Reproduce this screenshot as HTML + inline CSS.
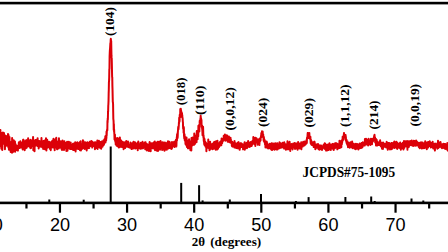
<!DOCTYPE html>
<html><head><meta charset="utf-8"><style>
html,body{margin:0;padding:0;background:#fff;}
body{width:448px;height:252px;overflow:hidden;}
svg{display:block;}
.ser{font-family:"Liberation Serif",serif;font-weight:bold;fill:#000;}
.san{font-family:"Liberation Sans",sans-serif;fill:#000;}
</style></head><body>
<svg width="448" height="252" viewBox="0 0 448 252">
<rect x="0" y="0" width="448" height="252" fill="#fff"/>
<rect x="0" y="1.8" width="448" height="2.6" fill="#000"/>
<polyline fill="none" stroke="#dc0008" stroke-width="2.0" stroke-linejoin="round" points="-2.00,143.03 -1.87,136.09 -1.73,137.68 -1.60,138.29 -1.47,138.79 -1.33,137.48 -1.20,143.01 -1.07,138.25 -0.93,139.11 -0.80,138.04 -0.67,133.54 -0.53,134.36 -0.40,133.32 -0.27,139.20 -0.13,134.91 -0.00,133.27 0.13,139.42 0.27,140.78 0.40,129.94 0.53,146.32 0.67,138.46 0.80,137.81 0.93,143.39 1.07,138.65 1.20,135.43 1.33,148.81 1.47,133.18 1.60,137.86 1.73,142.39 1.87,133.20 2.00,137.85 2.13,140.20 2.27,149.90 2.40,134.04 2.53,138.12 2.67,141.53 2.80,138.75 2.93,132.54 3.07,140.34 3.20,138.89 3.33,140.53 3.47,143.87 3.60,143.30 3.73,140.36 3.87,139.90 4.00,133.03 4.13,137.86 4.27,139.70 4.40,136.84 4.53,139.36 4.67,135.12 4.80,146.35 4.93,149.32 5.07,137.59 5.20,141.37 5.33,138.58 5.47,145.52 5.60,141.87 5.73,140.38 5.87,139.16 6.00,140.84 6.13,136.01 6.27,143.49 6.40,137.57 6.53,143.09 6.67,141.47 6.80,145.69 6.93,141.10 7.07,145.60 7.20,137.60 7.33,144.13 7.47,140.81 7.60,142.69 7.73,142.32 7.87,146.00 8.00,134.09 8.13,143.77 8.27,136.57 8.40,147.61 8.53,134.99 8.67,139.03 8.80,136.53 8.93,149.81 9.07,138.39 9.20,144.06 9.33,141.67 9.47,136.90 9.60,142.74 9.73,146.75 9.87,143.63 10.00,148.08 10.13,143.21 10.27,144.71 10.40,143.34 10.53,146.16 10.67,151.98 10.80,146.41 10.93,145.89 11.07,143.06 11.20,142.69 11.33,150.67 11.47,141.67 11.60,142.50 11.73,145.45 11.87,144.42 12.00,152.64 12.13,138.10 12.27,147.39 12.40,148.65 12.53,142.69 12.67,144.38 12.80,147.98 12.93,151.91 13.07,143.83 13.20,141.83 13.33,149.83 13.47,151.51 13.60,145.87 13.73,140.32 13.87,151.22 14.00,146.41 14.13,150.23 14.27,146.93 14.40,146.04 14.53,145.88 14.67,151.13 14.80,151.01 14.93,141.60 15.07,144.83 15.20,151.81 15.33,146.39 15.47,143.99 15.60,147.39 15.73,147.16 15.87,147.22 16.00,146.37 16.13,146.71 16.27,146.31 16.40,148.07 16.53,145.38 16.67,146.52 16.80,146.79 16.93,150.02 17.07,147.85 17.20,146.69 17.33,148.09 17.47,147.73 17.60,149.19 17.73,147.83 17.87,150.62 18.00,149.56 18.13,146.43 18.27,145.55 18.40,148.34 18.53,147.47 18.67,146.08 18.80,143.01 18.93,142.19 19.07,146.85 19.20,147.70 19.33,147.71 19.47,143.17 19.60,148.07 19.73,144.67 19.87,146.56 20.00,146.56 20.13,143.95 20.27,144.38 20.40,141.15 20.53,143.61 20.67,141.64 20.80,146.53 20.93,145.68 21.07,147.57 21.20,146.31 21.33,144.05 21.47,146.26 21.60,144.55 21.73,146.84 21.87,146.15 22.00,143.08 22.13,145.38 22.27,145.49 22.40,144.60 22.53,147.47 22.67,149.44 22.80,144.38 22.93,144.40 23.07,139.70 23.20,144.90 23.33,144.11 23.47,139.76 23.60,145.89 23.73,146.65 23.87,143.25 24.00,144.15 24.13,142.59 24.27,147.05 24.40,141.08 24.53,144.21 24.67,150.18 24.80,145.13 24.93,146.23 25.07,144.56 25.20,141.75 25.33,144.83 25.47,146.01 25.60,142.06 25.73,145.81 25.87,148.31 26.00,147.82 26.13,140.34 26.27,142.02 26.40,140.17 26.53,147.81 26.67,146.48 26.80,146.74 26.93,142.13 27.07,141.26 27.20,144.86 27.33,144.90 27.47,142.07 27.60,144.95 27.73,146.39 27.87,145.14 28.00,141.40 28.13,138.23 28.27,143.62 28.40,144.83 28.53,143.56 28.67,143.03 28.80,142.23 28.93,146.33 29.07,144.04 29.20,144.53 29.33,141.28 29.47,142.28 29.60,144.55 29.73,141.08 29.87,140.30 30.00,143.01 30.13,147.48 30.27,144.48 30.40,148.18 30.53,143.46 30.67,142.91 30.80,139.68 30.93,142.06 31.07,147.96 31.20,144.66 31.33,145.83 31.47,145.72 31.60,143.57 31.73,142.97 31.87,143.89 32.00,145.50 32.13,144.83 32.27,144.90 32.40,143.87 32.53,141.10 32.67,142.58 32.80,140.53 32.93,146.27 33.07,137.07 33.20,142.67 33.33,150.30 33.47,142.36 33.60,140.10 33.73,143.34 33.87,147.08 34.00,142.98 34.13,145.18 34.27,143.76 34.40,142.47 34.53,151.23 34.67,143.74 34.80,142.10 34.93,142.26 35.07,144.62 35.20,144.71 35.33,145.68 35.47,144.04 35.60,139.97 35.73,145.09 35.87,142.94 36.00,143.03 36.13,140.03 36.27,142.36 36.40,142.01 36.53,143.75 36.67,140.30 36.80,144.00 36.93,144.20 37.07,141.24 37.20,142.46 37.33,141.94 37.47,146.11 37.60,138.14 37.73,143.24 37.87,140.26 38.00,143.10 38.13,145.99 38.27,142.65 38.40,144.40 38.53,142.17 38.67,148.50 38.80,146.17 38.93,146.67 39.07,141.08 39.20,141.60 39.33,146.58 39.47,143.67 39.60,143.53 39.73,144.89 39.87,141.25 40.00,145.90 40.13,144.18 40.27,145.24 40.40,142.60 40.53,145.33 40.67,142.53 40.80,146.35 40.93,146.76 41.07,146.27 41.20,145.36 41.33,145.63 41.47,137.91 41.60,146.11 41.73,143.54 41.87,144.40 42.00,143.53 42.13,140.96 42.27,142.94 42.40,145.73 42.53,147.51 42.67,142.75 42.80,142.10 42.93,147.61 43.07,142.15 43.20,149.08 43.33,144.35 43.47,142.16 43.60,146.54 43.73,148.22 43.87,140.87 44.00,147.91 44.13,143.59 44.27,147.76 44.40,143.36 44.53,140.54 44.67,145.45 44.80,146.46 44.93,149.23 45.07,148.36 45.20,145.93 45.33,143.72 45.47,143.05 45.60,143.59 45.73,142.32 45.87,143.65 46.00,138.24 46.13,144.73 46.27,144.24 46.40,150.44 46.53,146.13 46.67,143.17 46.80,145.68 46.93,141.39 47.07,142.89 47.20,139.85 47.33,147.79 47.47,145.77 47.60,141.52 47.73,144.21 47.87,146.65 48.00,145.55 48.13,145.29 48.27,142.30 48.40,142.83 48.53,144.61 48.67,146.61 48.80,142.37 48.93,141.67 49.07,147.17 49.20,142.13 49.33,147.02 49.47,144.99 49.60,146.55 49.73,148.66 49.87,146.09 50.00,146.31 50.13,142.18 50.27,142.72 50.40,146.01 50.53,148.19 50.67,147.85 50.80,150.13 50.93,145.21 51.07,144.95 51.20,146.93 51.33,144.50 51.47,144.31 51.60,141.88 51.73,146.91 51.87,141.82 52.00,145.74 52.13,140.97 52.27,147.20 52.40,141.94 52.53,146.58 52.67,140.55 52.80,143.41 52.93,147.43 53.07,142.50 53.20,144.68 53.33,143.32 53.47,138.76 53.60,145.29 53.73,145.60 53.87,141.76 54.00,145.97 54.13,142.54 54.27,142.03 54.40,144.56 54.53,142.84 54.67,150.31 54.80,140.65 54.93,146.42 55.07,147.06 55.20,139.61 55.33,140.25 55.47,146.06 55.60,143.45 55.73,145.65 55.87,147.59 56.00,143.79 56.13,142.06 56.27,137.86 56.40,145.32 56.53,142.46 56.67,145.64 56.80,145.46 56.93,141.37 57.07,149.30 57.20,147.70 57.33,147.12 57.47,141.96 57.60,143.96 57.73,143.63 57.87,143.99 58.00,142.19 58.13,146.21 58.27,145.71 58.40,146.08 58.53,143.86 58.67,148.51 58.80,145.69 58.93,138.18 59.07,143.61 59.20,145.13 59.33,147.79 59.47,144.55 59.60,144.70 59.73,143.65 59.87,147.11 60.00,144.26 60.13,143.87 60.27,143.54 60.40,146.91 60.53,144.13 60.67,141.21 60.80,147.14 60.93,143.76 61.07,146.50 61.20,146.56 61.33,148.70 61.47,148.31 61.60,144.20 61.73,145.27 61.87,142.43 62.00,149.98 62.13,146.85 62.27,149.26 62.40,144.93 62.53,140.57 62.67,149.59 62.80,145.98 62.93,146.08 63.07,145.88 63.20,147.36 63.33,147.08 63.47,141.79 63.60,148.46 63.73,144.44 63.87,144.60 64.00,150.04 64.13,148.04 64.27,144.93 64.40,141.18 64.53,146.17 64.67,147.09 64.80,145.57 64.93,142.72 65.07,143.84 65.20,142.71 65.33,146.30 65.47,147.78 65.60,148.28 65.73,144.01 65.87,146.36 66.00,147.13 66.13,144.55 66.27,145.43 66.40,150.92 66.53,146.29 66.67,147.92 66.80,144.76 66.93,145.90 67.07,141.70 67.20,145.75 67.33,148.65 67.47,150.81 67.60,148.66 67.73,147.44 67.87,145.94 68.00,144.40 68.13,145.44 68.27,147.27 68.40,143.97 68.53,148.02 68.67,143.52 68.80,141.66 68.93,143.46 69.07,141.94 69.20,142.63 69.33,148.47 69.47,145.37 69.60,146.35 69.73,148.53 69.87,148.76 70.00,144.68 70.13,148.91 70.27,146.73 70.40,145.86 70.53,146.87 70.67,142.59 70.80,144.06 70.93,145.61 71.07,147.25 71.20,145.01 71.33,145.57 71.47,148.06 71.60,149.07 71.73,147.60 71.87,148.73 72.00,144.96 72.13,145.18 72.27,146.59 72.40,145.20 72.53,144.74 72.67,149.57 72.80,145.43 72.93,143.73 73.07,146.97 73.20,149.97 73.33,146.07 73.47,148.62 73.60,144.92 73.73,144.81 73.87,144.38 74.00,145.58 74.13,149.93 74.27,143.37 74.40,149.48 74.53,143.70 74.67,145.40 74.80,147.73 74.93,147.28 75.07,146.52 75.20,142.34 75.33,146.70 75.47,143.71 75.60,151.45 75.73,145.46 75.87,146.32 76.00,143.46 76.13,144.90 76.27,143.17 76.40,148.02 76.53,145.37 76.67,147.12 76.80,144.48 76.93,144.87 77.07,148.66 77.20,143.88 77.33,142.14 77.47,146.79 77.60,143.54 77.73,145.02 77.87,147.85 78.00,144.24 78.13,147.77 78.27,144.50 78.40,149.03 78.53,148.68 78.67,144.91 78.80,145.44 78.93,144.13 79.07,146.29 79.20,148.27 79.33,142.80 79.47,147.77 79.60,143.04 79.73,144.00 79.87,142.03 80.00,150.24 80.13,145.91 80.27,146.29 80.40,144.33 80.53,148.02 80.67,141.28 80.80,145.79 80.93,150.41 81.07,144.90 81.20,145.74 81.33,147.13 81.47,143.96 81.60,145.72 81.73,147.72 81.87,146.07 82.00,146.44 82.13,144.89 82.27,146.30 82.40,145.73 82.53,148.72 82.67,147.15 82.80,145.06 82.93,140.31 83.07,147.10 83.20,147.18 83.33,143.57 83.47,141.22 83.60,143.06 83.73,147.51 83.87,143.20 84.00,144.50 84.13,145.96 84.27,148.12 84.40,145.42 84.53,145.23 84.67,144.25 84.80,148.97 84.93,147.74 85.07,145.20 85.20,142.35 85.33,143.66 85.47,146.64 85.60,143.79 85.73,147.30 85.87,146.13 86.00,145.97 86.13,146.75 86.27,146.40 86.40,143.42 86.53,144.57 86.67,150.42 86.80,142.61 86.93,144.21 87.07,147.59 87.20,144.88 87.33,143.43 87.47,142.29 87.60,146.38 87.73,147.44 87.87,148.27 88.00,145.29 88.13,147.47 88.27,142.85 88.40,145.51 88.53,143.62 88.67,145.50 88.80,146.77 88.93,147.47 89.07,142.87 89.20,147.89 89.33,143.99 89.47,142.75 89.60,144.65 89.73,141.75 89.87,145.02 90.00,145.64 90.13,144.52 90.27,146.14 90.40,144.20 90.53,144.89 90.67,141.61 90.80,144.92 90.93,142.88 91.07,143.75 91.20,144.52 91.33,145.14 91.47,140.96 91.60,141.11 91.73,143.93 91.87,145.66 92.00,145.37 92.13,146.57 92.27,147.48 92.40,145.67 92.53,144.51 92.67,142.27 92.80,142.47 92.93,143.53 93.07,145.14 93.20,145.04 93.33,144.57 93.47,144.22 93.60,145.92 93.73,145.00 93.87,145.19 94.00,145.21 94.13,143.39 94.27,142.37 94.40,145.58 94.53,145.42 94.67,144.08 94.80,143.68 94.93,149.26 95.07,142.97 95.20,144.09 95.33,145.08 95.47,142.18 95.60,144.76 95.73,148.15 95.87,146.40 96.00,145.78 96.13,145.69 96.27,144.73 96.40,146.40 96.53,144.20 96.67,143.67 96.80,144.69 96.93,146.24 97.07,145.12 97.20,145.77 97.33,140.60 97.47,146.73 97.60,148.89 97.73,146.97 97.87,143.85 98.00,142.85 98.13,144.96 98.27,142.63 98.40,145.80 98.53,143.50 98.67,146.22 98.80,146.95 98.93,140.81 99.07,145.01 99.20,143.24 99.33,141.99 99.47,143.40 99.60,144.11 99.73,146.31 99.87,141.84 100.00,146.31 100.13,147.98 100.27,145.48 100.40,145.37 100.53,144.36 100.67,142.27 100.80,145.26 100.93,144.95 101.07,145.53 101.20,148.80 101.33,145.44 101.47,144.84 101.60,146.85 101.73,141.49 101.87,141.78 102.00,143.10 102.13,142.50 102.27,144.90 102.40,142.92 102.53,146.66 102.67,146.14 102.80,144.62 102.93,142.31 103.07,144.07 103.20,144.30 103.33,140.57 103.47,143.10 103.60,143.62 103.73,142.50 103.87,144.94 104.00,144.06 104.13,139.89 104.27,141.53 104.40,139.43 104.53,141.98 104.67,138.89 104.80,142.19 104.93,140.88 105.07,141.77 105.20,139.26 105.33,136.32 105.47,142.49 105.60,138.23 105.73,140.99 105.87,138.64 106.00,138.67 106.13,140.51 106.27,136.84 106.40,138.34 106.53,131.57 106.67,135.54 106.80,132.16 106.93,131.17 107.07,130.08 107.20,129.20 107.33,130.17 107.47,120.69 107.60,122.43 107.73,118.25 107.87,119.44 108.00,112.92 108.13,111.42 108.27,105.90 108.40,104.28 108.53,100.86 108.67,93.38 108.80,89.79 108.93,81.85 109.07,80.86 109.20,77.28 109.33,69.39 109.47,68.48 109.60,56.91 109.73,53.22 109.87,50.42 110.00,49.04 110.13,47.26 110.27,44.68 110.40,42.94 110.53,43.63 110.67,40.45 110.80,38.86 110.93,39.81 111.07,49.12 111.20,40.99 111.33,48.80 111.47,55.91 111.60,57.40 111.73,58.47 111.87,64.88 112.00,71.60 112.13,77.27 112.27,77.22 112.40,86.10 112.53,89.80 112.67,96.62 112.80,101.95 112.93,102.22 113.07,103.75 113.20,112.15 113.33,119.17 113.47,119.91 113.60,121.90 113.73,130.02 113.87,124.12 114.00,131.15 114.13,129.52 114.27,132.82 114.40,134.47 114.53,139.36 114.67,134.42 114.80,136.43 114.93,134.63 115.07,140.60 115.20,138.84 115.33,141.61 115.47,138.27 115.60,140.47 115.73,144.37 115.87,141.55 116.00,143.85 116.13,143.81 116.27,141.73 116.40,138.81 116.53,145.45 116.67,143.50 116.80,145.68 116.93,138.17 117.07,139.18 117.20,138.03 117.33,141.32 117.47,146.25 117.60,145.11 117.73,143.66 117.87,144.14 118.00,145.78 118.13,143.17 118.27,144.97 118.40,144.38 118.53,138.61 118.67,143.16 118.80,147.55 118.93,143.22 119.07,143.89 119.20,142.78 119.33,143.12 119.47,147.14 119.60,143.73 119.73,141.91 119.87,137.57 120.00,143.08 120.13,139.69 120.27,140.08 120.40,146.52 120.53,146.33 120.67,139.95 120.80,146.73 120.93,145.79 121.07,142.80 121.20,146.50 121.33,140.80 121.47,141.85 121.60,141.31 121.73,142.13 121.87,146.94 122.00,141.64 122.13,142.10 122.27,142.60 122.40,145.36 122.53,144.10 122.67,146.99 122.80,143.25 122.93,141.89 123.07,143.78 123.20,145.07 123.33,142.79 123.47,145.67 123.60,149.31 123.73,143.66 123.87,145.14 124.00,148.23 124.13,143.54 124.27,143.09 124.40,142.52 124.53,146.02 124.67,146.30 124.80,144.76 124.93,145.21 125.07,148.08 125.20,147.14 125.33,141.90 125.47,145.13 125.60,145.40 125.73,146.82 125.87,144.65 126.00,143.69 126.13,144.13 126.27,141.12 126.40,145.14 126.53,143.84 126.67,146.27 126.80,142.88 126.93,144.23 127.07,143.01 127.20,142.82 127.33,146.82 127.47,144.20 127.60,146.25 127.73,142.74 127.87,145.48 128.00,141.48 128.13,144.20 128.27,144.16 128.40,146.58 128.53,145.69 128.67,144.91 128.80,147.16 128.93,145.73 129.07,146.50 129.20,147.01 129.33,145.17 129.47,144.68 129.60,146.05 129.73,144.42 129.87,146.19 130.00,147.77 130.13,147.22 130.27,144.52 130.40,142.55 130.53,145.24 130.67,145.09 130.80,147.78 130.93,144.54 131.07,144.93 131.20,146.99 131.33,144.35 131.47,145.05 131.60,149.12 131.73,148.64 131.87,146.77 132.00,145.99 132.13,143.31 132.27,146.63 132.40,145.55 132.53,145.90 132.67,144.30 132.80,145.41 132.93,145.04 133.07,146.12 133.20,148.53 133.33,146.23 133.47,141.86 133.60,143.36 133.73,142.03 133.87,143.75 134.00,146.67 134.13,146.33 134.27,144.18 134.40,146.05 134.53,143.84 134.67,142.42 134.80,142.45 134.93,143.64 135.07,148.55 135.20,142.61 135.33,148.17 135.47,148.35 135.60,145.11 135.73,145.40 135.87,144.19 136.00,145.45 136.13,146.92 136.27,145.53 136.40,147.65 136.53,148.06 136.67,146.25 136.80,146.22 136.93,145.39 137.07,146.27 137.20,143.15 137.33,146.40 137.47,145.97 137.60,143.69 137.73,150.13 137.87,143.47 138.00,143.69 138.13,146.14 138.27,141.42 138.40,143.86 138.53,142.31 138.67,143.50 138.80,145.27 138.93,146.24 139.07,147.91 139.20,147.28 139.33,148.08 139.47,146.82 139.60,144.58 139.73,147.94 139.87,144.54 140.00,144.27 140.13,148.83 140.27,147.27 140.40,146.08 140.53,147.22 140.67,147.49 140.80,142.76 140.93,145.46 141.07,143.17 141.20,145.94 141.33,144.27 141.47,148.57 141.60,146.81 141.73,144.01 141.87,145.70 142.00,143.19 142.13,145.84 142.27,146.92 142.40,146.34 142.53,141.73 142.67,145.10 142.80,146.88 142.93,146.47 143.07,148.27 143.20,143.14 143.33,146.96 143.47,144.50 143.60,146.29 143.73,146.74 143.87,147.34 144.00,144.70 144.13,146.31 144.27,143.49 144.40,142.99 144.53,147.12 144.67,145.85 144.80,142.59 144.93,144.21 145.07,146.04 145.20,149.26 145.33,148.21 145.47,147.70 145.60,142.31 145.73,145.85 145.87,147.06 146.00,146.90 146.13,146.96 146.27,145.61 146.40,149.77 146.53,149.20 146.67,145.94 146.80,144.10 146.93,150.43 147.07,145.02 147.20,148.66 147.33,150.15 147.47,144.24 147.60,146.81 147.73,145.50 147.87,147.30 148.00,146.91 148.13,150.29 148.27,147.49 148.40,146.26 148.53,148.62 148.67,145.73 148.80,145.55 148.93,150.95 149.07,144.63 149.20,145.33 149.33,146.44 149.47,144.18 149.60,142.02 149.73,148.56 149.87,144.77 150.00,145.29 150.13,145.63 150.27,144.38 150.40,144.18 150.53,146.73 150.67,151.33 150.80,147.91 150.93,147.93 151.07,143.29 151.20,146.34 151.33,143.95 151.47,147.97 151.60,145.91 151.73,146.46 151.87,146.19 152.00,145.18 152.13,143.25 152.27,147.56 152.40,143.53 152.53,143.95 152.67,145.75 152.80,144.92 152.93,146.90 153.07,148.43 153.20,146.86 153.33,146.76 153.47,146.40 153.60,148.10 153.73,142.57 153.87,147.09 154.00,144.44 154.13,143.82 154.27,146.35 154.40,145.55 154.53,147.52 154.67,148.58 154.80,141.59 154.93,146.18 155.07,150.31 155.20,148.09 155.33,149.26 155.47,146.52 155.60,143.40 155.73,144.02 155.87,147.76 156.00,148.26 156.13,144.82 156.27,145.76 156.40,146.83 156.53,142.75 156.67,145.58 156.80,149.57 156.93,150.72 157.07,146.07 157.20,149.99 157.33,145.22 157.47,144.64 157.60,141.75 157.73,148.21 157.87,145.51 158.00,151.00 158.13,146.93 158.27,146.64 158.40,142.61 158.53,149.29 158.67,145.52 158.80,145.92 158.93,141.80 159.07,148.11 159.20,148.23 159.33,145.02 159.47,146.42 159.60,147.02 159.73,148.17 159.87,146.44 160.00,149.69 160.13,145.73 160.27,145.00 160.40,145.27 160.53,141.11 160.67,144.58 160.80,148.22 160.93,146.73 161.07,144.55 161.20,146.89 161.33,142.14 161.47,145.61 161.60,147.23 161.73,147.57 161.87,144.62 162.00,148.00 162.13,149.91 162.27,145.31 162.40,147.64 162.53,143.04 162.67,142.23 162.80,147.37 162.93,146.22 163.07,146.53 163.20,144.97 163.33,145.54 163.47,147.74 163.60,149.54 163.73,145.68 163.87,142.82 164.00,148.64 164.13,147.29 164.27,147.45 164.40,146.45 164.53,150.70 164.67,146.22 164.80,147.09 164.93,142.38 165.07,144.90 165.20,144.68 165.33,145.98 165.47,146.73 165.60,144.54 165.73,149.45 165.87,143.90 166.00,145.11 166.13,146.47 166.27,143.51 166.40,147.11 166.53,147.23 166.67,145.39 166.80,149.74 166.93,146.11 167.07,146.50 167.20,144.03 167.33,142.61 167.47,144.67 167.60,145.27 167.73,144.99 167.87,147.40 168.00,141.16 168.13,143.63 168.27,142.25 168.40,148.48 168.53,144.72 168.67,144.80 168.80,143.64 168.93,147.56 169.07,144.97 169.20,146.20 169.33,141.75 169.47,148.04 169.60,146.50 169.73,146.79 169.87,148.12 170.00,145.30 170.13,145.33 170.27,147.04 170.40,146.44 170.53,145.10 170.67,145.64 170.80,144.53 170.93,146.89 171.07,147.29 171.20,145.44 171.33,149.08 171.47,142.36 171.60,144.88 171.73,148.65 171.87,144.45 172.00,142.11 172.13,147.93 172.27,146.23 172.40,142.79 172.53,146.59 172.67,143.04 172.80,142.37 172.93,144.65 173.07,143.96 173.20,142.70 173.33,144.07 173.47,142.77 173.60,144.78 173.73,144.56 173.87,145.98 174.00,143.57 174.13,141.78 174.27,141.71 174.40,143.70 174.53,147.06 174.67,145.61 174.80,142.58 174.93,145.51 175.07,141.27 175.20,145.32 175.33,142.39 175.47,144.43 175.60,143.91 175.73,141.86 175.87,142.76 176.00,139.65 176.13,141.30 176.27,143.25 176.40,146.40 176.53,141.64 176.67,139.89 176.80,137.10 176.93,140.75 177.07,134.52 177.20,135.58 177.33,137.23 177.47,133.17 177.60,138.04 177.73,136.20 177.87,131.74 178.00,130.75 178.13,128.05 178.27,126.75 178.40,129.51 178.53,128.70 178.67,126.89 178.80,125.45 178.93,122.40 179.07,123.11 179.20,117.84 179.33,119.80 179.47,121.78 179.60,120.26 179.73,115.18 179.87,114.39 180.00,117.20 180.13,117.23 180.27,109.12 180.40,110.86 180.53,111.84 180.67,113.71 180.80,108.85 180.93,112.18 181.07,110.16 181.20,116.58 181.33,112.57 181.47,111.87 181.60,112.13 181.73,116.21 181.87,116.29 182.00,113.23 182.13,117.41 182.27,114.96 182.40,117.57 182.53,117.57 182.67,118.79 182.80,121.61 182.93,122.22 183.07,127.12 183.20,129.04 183.33,127.80 183.47,126.88 183.60,132.71 183.73,126.95 183.87,128.24 184.00,135.76 184.13,136.57 184.27,138.30 184.40,136.17 184.53,134.29 184.67,136.94 184.80,140.43 184.93,137.57 185.07,138.31 185.20,136.97 185.33,138.05 185.47,143.99 185.60,143.35 185.73,139.21 185.87,139.75 186.00,141.51 186.13,144.93 186.27,140.16 186.40,143.25 186.53,137.55 186.67,140.29 186.80,145.44 186.93,147.01 187.07,140.82 187.20,142.06 187.33,147.02 187.47,143.35 187.60,142.91 187.73,146.34 187.87,145.34 188.00,148.36 188.13,147.37 188.27,142.87 188.40,144.39 188.53,144.59 188.67,140.19 188.80,141.46 188.93,148.13 189.07,139.29 189.20,148.15 189.33,145.69 189.47,144.22 189.60,146.45 189.73,146.19 189.87,148.55 190.00,143.20 190.13,143.71 190.27,143.59 190.40,150.31 190.53,147.21 190.67,141.22 190.80,142.98 190.93,141.73 191.07,143.83 191.20,144.31 191.33,150.43 191.47,137.91 191.60,146.26 191.73,144.32 191.87,140.81 192.00,142.23 192.13,141.03 192.27,142.36 192.40,144.82 192.53,137.51 192.67,145.13 192.80,140.23 192.93,145.08 193.07,141.88 193.20,143.86 193.33,141.83 193.47,143.01 193.60,140.03 193.73,137.44 193.87,141.26 194.00,141.17 194.13,144.69 194.27,133.59 194.40,138.24 194.53,141.43 194.67,135.16 194.80,137.76 194.93,143.85 195.07,141.90 195.20,135.77 195.33,141.76 195.47,141.05 195.60,139.92 195.73,138.82 195.87,138.39 196.00,135.43 196.13,136.30 196.27,139.49 196.40,137.88 196.53,142.21 196.67,136.43 196.80,130.94 196.93,136.11 197.07,137.47 197.20,137.49 197.33,136.38 197.47,133.76 197.60,139.30 197.73,133.34 197.87,136.36 198.00,133.26 198.13,130.35 198.27,136.34 198.40,125.67 198.53,129.13 198.67,131.59 198.80,128.77 198.93,130.70 199.07,127.66 199.20,125.87 199.33,131.52 199.47,124.64 199.60,123.91 199.73,120.75 199.87,120.78 200.00,123.52 200.13,122.69 200.27,120.77 200.40,118.63 200.53,121.78 200.67,115.72 200.80,119.08 200.93,119.44 201.07,118.26 201.20,121.13 201.33,119.66 201.47,119.98 201.60,127.10 201.73,125.34 201.87,127.36 202.00,125.53 202.13,128.74 202.27,129.32 202.40,131.40 202.53,135.22 202.67,129.98 202.80,132.16 202.93,132.40 203.07,126.79 203.20,131.06 203.33,135.34 203.47,137.65 203.60,135.56 203.73,140.39 203.87,141.44 204.00,138.07 204.13,143.03 204.27,144.37 204.40,141.85 204.53,138.92 204.67,145.13 204.80,141.69 204.93,141.56 205.07,143.06 205.20,141.83 205.33,145.87 205.47,145.43 205.60,146.69 205.73,145.41 205.87,142.41 206.00,144.06 206.13,146.60 206.27,143.78 206.40,151.31 206.53,144.41 206.67,143.74 206.80,147.83 206.93,147.00 207.07,145.31 207.20,144.94 207.33,146.52 207.47,147.53 207.60,147.44 207.73,145.09 207.87,146.83 208.00,147.83 208.13,147.68 208.27,139.62 208.40,143.98 208.53,144.27 208.67,145.53 208.80,146.48 208.93,148.18 209.07,147.51 209.20,145.85 209.33,146.21 209.47,150.13 209.60,144.82 209.73,146.90 209.87,149.73 210.00,147.02 210.13,141.70 210.27,147.11 210.40,145.43 210.53,146.05 210.67,148.65 210.80,147.37 210.93,145.76 211.07,148.32 211.20,147.32 211.33,146.60 211.47,147.04 211.60,146.95 211.73,145.65 211.87,145.40 212.00,146.47 212.13,144.33 212.27,143.67 212.40,149.28 212.53,145.92 212.67,146.39 212.80,146.16 212.93,146.51 213.07,146.51 213.20,146.60 213.33,144.72 213.47,148.48 213.60,144.97 213.73,148.70 213.87,142.33 214.00,144.18 214.13,148.60 214.27,146.15 214.40,145.03 214.53,147.27 214.67,144.22 214.80,146.62 214.93,141.72 215.07,145.48 215.20,145.05 215.33,147.57 215.47,148.27 215.60,144.59 215.73,149.80 215.87,145.12 216.00,142.02 216.13,141.29 216.27,149.50 216.40,146.02 216.53,144.79 216.67,144.52 216.80,143.74 216.93,148.80 217.07,145.73 217.20,149.58 217.33,145.36 217.47,140.81 217.60,147.39 217.73,144.79 217.87,144.99 218.00,148.64 218.13,144.77 218.27,147.62 218.40,145.12 218.53,143.49 218.67,145.98 218.80,143.60 218.93,147.25 219.07,146.59 219.20,144.64 219.33,145.64 219.47,145.42 219.60,143.58 219.73,145.84 219.87,143.42 220.00,144.99 220.13,141.67 220.27,143.66 220.40,144.14 220.53,141.55 220.67,142.15 220.80,141.75 220.93,144.12 221.07,141.04 221.20,143.19 221.33,145.19 221.47,142.66 221.60,138.54 221.73,141.82 221.87,143.45 222.00,140.61 222.13,143.22 222.27,142.08 222.40,141.52 222.53,140.00 222.67,139.34 222.80,139.67 222.93,140.13 223.07,140.87 223.20,140.49 223.33,138.90 223.47,139.45 223.60,139.91 223.73,135.81 223.87,137.32 224.00,137.10 224.13,138.11 224.27,137.82 224.40,137.70 224.53,136.37 224.67,139.23 224.80,138.33 224.93,134.50 225.07,137.58 225.20,135.28 225.33,140.63 225.47,136.39 225.60,136.43 225.73,137.28 225.87,136.69 226.00,136.91 226.13,139.95 226.27,137.40 226.40,138.55 226.53,139.11 226.67,135.14 226.80,140.22 226.93,138.36 227.07,138.92 227.20,135.55 227.33,138.79 227.47,138.12 227.60,136.43 227.73,141.83 227.87,138.73 228.00,137.34 228.13,138.29 228.27,139.77 228.40,140.32 228.53,139.46 228.67,140.80 228.80,141.43 228.93,136.59 229.07,138.15 229.20,137.49 229.33,139.59 229.47,142.25 229.60,140.98 229.73,138.05 229.87,139.62 230.00,142.23 230.13,139.56 230.27,140.54 230.40,141.46 230.53,137.77 230.67,142.69 230.80,142.07 230.93,142.66 231.07,140.04 231.20,140.59 231.33,141.07 231.47,142.77 231.60,142.61 231.73,142.87 231.87,146.01 232.00,145.29 232.13,141.81 232.27,142.08 232.40,146.44 232.53,142.95 232.67,146.10 232.80,146.61 232.93,142.94 233.07,143.54 233.20,144.28 233.33,142.72 233.47,142.62 233.60,143.74 233.73,146.04 233.87,143.85 234.00,144.37 234.13,144.00 234.27,142.51 234.40,147.56 234.53,140.97 234.67,143.98 234.80,146.15 234.93,142.83 235.07,146.36 235.20,147.53 235.33,143.94 235.47,145.84 235.60,143.62 235.73,146.44 235.87,145.77 236.00,146.03 236.13,148.03 236.27,146.53 236.40,148.05 236.53,146.86 236.67,143.74 236.80,146.27 236.93,146.68 237.07,143.37 237.20,148.17 237.33,146.01 237.47,146.54 237.60,144.37 237.73,146.05 237.87,146.46 238.00,145.39 238.13,146.10 238.27,142.31 238.40,148.33 238.53,144.06 238.67,142.21 238.80,144.33 238.93,144.55 239.07,146.94 239.20,144.42 239.33,146.50 239.47,144.34 239.60,149.84 239.73,146.96 239.87,149.41 240.00,144.25 240.13,147.17 240.27,144.34 240.40,147.01 240.53,147.18 240.67,143.21 240.80,144.01 240.93,143.95 241.07,143.35 241.20,144.69 241.33,144.29 241.47,143.43 241.60,146.12 241.73,146.90 241.87,143.63 242.00,144.95 242.13,145.93 242.27,145.50 242.40,144.67 242.53,147.32 242.67,147.37 242.80,147.07 242.93,145.49 243.07,149.35 243.20,148.91 243.33,145.12 243.47,145.60 243.60,147.90 243.73,144.38 243.87,146.48 244.00,145.84 244.13,144.50 244.27,145.32 244.40,142.93 244.53,144.73 244.67,142.14 244.80,149.70 244.93,148.31 245.07,147.80 245.20,146.13 245.33,147.35 245.47,147.81 245.60,147.33 245.73,147.13 245.87,143.85 246.00,146.21 246.13,144.46 246.27,143.28 246.40,143.31 246.53,146.08 246.67,147.16 246.80,142.80 246.93,148.33 247.07,147.80 247.20,144.45 247.33,144.26 247.47,144.91 247.60,146.76 247.73,144.26 247.87,142.91 248.00,145.46 248.13,141.08 248.27,144.99 248.40,146.77 248.53,145.17 248.67,145.97 248.80,145.39 248.93,145.75 249.07,144.63 249.20,142.80 249.33,143.82 249.47,144.02 249.60,146.36 249.73,146.95 249.87,144.69 250.00,142.48 250.13,142.46 250.27,143.38 250.40,146.16 250.53,144.19 250.67,143.41 250.80,142.05 250.93,144.96 251.07,143.81 251.20,143.12 251.33,143.32 251.47,146.10 251.60,142.69 251.73,145.94 251.87,145.05 252.00,142.83 252.13,144.24 252.27,142.35 252.40,141.00 252.53,141.92 252.67,140.69 252.80,143.16 252.93,142.19 253.07,143.10 253.20,143.49 253.33,136.90 253.47,142.41 253.60,138.55 253.73,142.01 253.87,140.07 254.00,141.76 254.13,143.96 254.27,138.39 254.40,141.74 254.53,141.20 254.67,137.91 254.80,142.40 254.93,141.27 255.07,140.26 255.20,139.84 255.33,146.10 255.47,140.38 255.60,137.85 255.73,139.39 255.87,140.38 256.00,140.35 256.13,140.88 256.27,139.15 256.40,141.98 256.53,140.15 256.67,138.60 256.80,139.58 256.93,140.36 257.07,142.57 257.20,141.94 257.33,140.50 257.47,141.16 257.60,141.53 257.73,144.79 257.87,140.10 258.00,142.04 258.13,142.51 258.27,139.55 258.40,141.58 258.53,141.53 258.67,140.39 258.80,142.20 258.93,142.97 259.07,143.09 259.20,140.67 259.33,141.23 259.47,144.91 259.60,138.64 259.73,140.78 259.87,141.72 260.00,140.13 260.13,140.70 260.27,139.49 260.40,140.11 260.53,140.59 260.67,137.46 260.80,137.68 260.93,136.69 261.07,135.51 261.20,135.61 261.33,133.08 261.47,135.83 261.60,136.99 261.73,136.53 261.87,135.39 262.00,131.17 262.13,135.38 262.27,131.45 262.40,132.73 262.53,136.32 262.67,131.59 262.80,135.43 262.93,135.04 263.07,134.93 263.20,134.36 263.33,137.35 263.47,136.53 263.60,139.90 263.73,140.92 263.87,137.06 264.00,139.24 264.13,140.18 264.27,139.25 264.40,139.89 264.53,142.49 264.67,142.41 264.80,140.31 264.93,142.61 265.07,144.78 265.20,142.07 265.33,142.82 265.47,147.42 265.60,147.15 265.73,142.23 265.87,142.87 266.00,146.01 266.13,143.41 266.27,145.14 266.40,144.89 266.53,146.73 266.67,141.45 266.80,142.09 266.93,143.84 267.07,147.79 267.20,145.81 267.33,143.17 267.47,147.03 267.60,147.45 267.73,145.84 267.87,145.73 268.00,147.10 268.13,148.46 268.27,146.64 268.40,147.32 268.53,146.32 268.67,145.76 268.80,144.85 268.93,146.89 269.07,145.93 269.20,146.04 269.33,148.08 269.47,147.32 269.60,147.99 269.73,143.76 269.87,147.46 270.00,145.48 270.13,145.10 270.27,145.03 270.40,148.60 270.53,147.94 270.67,145.27 270.80,144.54 270.93,146.53 271.07,145.71 271.20,149.38 271.33,143.98 271.47,143.34 271.60,146.06 271.73,146.52 271.87,146.73 272.00,147.80 272.13,150.08 272.27,145.90 272.40,145.55 272.53,143.45 272.67,146.90 272.80,147.95 272.93,146.02 273.07,148.51 273.20,146.52 273.33,149.08 273.47,147.03 273.60,144.63 273.73,145.35 273.87,143.79 274.00,143.44 274.13,146.89 274.27,147.93 274.40,149.79 274.53,146.32 274.67,146.00 274.80,144.49 274.93,148.10 275.07,147.06 275.20,145.36 275.33,147.57 275.47,147.34 275.60,143.14 275.73,147.64 275.87,146.59 276.00,145.67 276.13,145.62 276.27,149.34 276.40,148.97 276.53,149.46 276.67,144.33 276.80,145.18 276.93,147.86 277.07,144.21 277.20,145.04 277.33,143.17 277.47,149.46 277.60,148.09 277.73,147.04 277.87,146.62 278.00,145.52 278.13,145.55 278.27,147.28 278.40,144.99 278.53,148.32 278.67,145.36 278.80,144.69 278.93,148.42 279.07,145.93 279.20,147.13 279.33,145.45 279.47,142.29 279.60,147.09 279.73,143.83 279.87,147.99 280.00,143.46 280.13,142.92 280.27,146.65 280.40,146.86 280.53,146.31 280.67,144.04 280.80,147.65 280.93,143.61 281.07,145.33 281.20,144.78 281.33,145.48 281.47,147.60 281.60,145.04 281.73,147.10 281.87,147.32 282.00,143.20 282.13,144.13 282.27,145.48 282.40,145.12 282.53,146.66 282.67,142.82 282.80,147.37 282.93,147.41 283.07,145.85 283.20,143.77 283.33,146.15 283.47,145.22 283.60,147.11 283.73,145.99 283.87,147.38 284.00,145.40 284.13,148.61 284.27,142.19 284.40,144.40 284.53,146.98 284.67,143.55 284.80,147.40 284.93,144.06 285.07,146.30 285.20,144.57 285.33,145.38 285.47,146.44 285.60,145.96 285.73,145.48 285.87,149.82 286.00,146.15 286.13,144.48 286.27,147.72 286.40,147.54 286.53,148.23 286.67,149.19 286.80,144.53 286.93,147.95 287.07,148.08 287.20,146.13 287.33,146.55 287.47,141.35 287.60,145.15 287.73,149.19 287.87,143.08 288.00,145.22 288.13,146.62 288.27,147.11 288.40,148.91 288.53,143.12 288.67,146.20 288.80,147.59 288.93,143.88 289.07,146.06 289.20,149.34 289.33,148.37 289.47,147.04 289.60,141.66 289.73,145.90 289.87,146.78 290.00,145.59 290.13,146.01 290.27,150.89 290.40,145.75 290.53,144.46 290.67,146.53 290.80,145.58 290.93,145.58 291.07,145.96 291.20,147.43 291.33,146.51 291.47,144.06 291.60,145.88 291.73,146.91 291.87,145.31 292.00,148.06 292.13,147.42 292.27,144.41 292.40,146.64 292.53,149.47 292.67,148.75 292.80,146.00 292.93,147.62 293.07,144.94 293.20,143.62 293.33,147.03 293.47,146.50 293.60,146.96 293.73,146.04 293.87,146.63 294.00,145.20 294.13,146.88 294.27,147.49 294.40,145.97 294.53,147.45 294.67,143.05 294.80,144.72 294.93,148.51 295.07,149.05 295.20,146.48 295.33,145.87 295.47,143.89 295.60,146.66 295.73,147.36 295.87,143.52 296.00,146.98 296.13,146.86 296.27,146.77 296.40,144.11 296.53,146.94 296.67,143.47 296.80,148.53 296.93,146.23 297.07,144.03 297.20,148.28 297.33,147.95 297.47,144.88 297.60,149.72 297.73,144.27 297.87,146.50 298.00,147.97 298.13,142.11 298.27,147.65 298.40,145.84 298.53,145.91 298.67,144.11 298.80,146.49 298.93,144.04 299.07,144.27 299.20,145.14 299.33,143.82 299.47,148.55 299.60,143.63 299.73,144.59 299.87,145.32 300.00,145.85 300.13,147.18 300.27,147.21 300.40,145.30 300.53,145.15 300.67,145.85 300.80,147.17 300.93,146.94 301.07,144.87 301.20,142.25 301.33,149.34 301.47,147.31 301.60,146.12 301.73,146.23 301.87,144.75 302.00,143.92 302.13,145.03 302.27,145.18 302.40,144.47 302.53,143.04 302.67,144.93 302.80,146.40 302.93,144.55 303.07,145.37 303.20,141.79 303.33,144.87 303.47,144.95 303.60,143.02 303.73,142.09 303.87,145.62 304.00,143.46 304.13,145.54 304.27,143.89 304.40,145.51 304.53,143.74 304.67,141.61 304.80,143.83 304.93,143.23 305.07,144.68 305.20,142.58 305.33,142.42 305.47,144.27 305.60,144.49 305.73,143.50 305.87,143.63 306.00,142.30 306.13,142.46 306.27,142.26 306.40,141.06 306.53,140.06 306.67,139.77 306.80,143.14 306.93,138.67 307.07,137.81 307.20,137.16 307.33,137.29 307.47,137.35 307.60,134.65 307.73,132.88 307.87,136.38 308.00,132.93 308.13,135.84 308.27,135.49 308.40,137.10 308.53,137.95 308.67,135.82 308.80,134.39 308.93,133.53 309.07,134.41 309.20,136.09 309.33,132.89 309.47,136.84 309.60,137.09 309.73,138.60 309.87,137.40 310.00,138.56 310.13,137.60 310.27,138.49 310.40,136.74 310.53,140.32 310.67,143.10 310.80,141.18 310.93,141.90 311.07,140.01 311.20,144.37 311.33,141.02 311.47,143.93 311.60,143.06 311.73,141.54 311.87,145.08 312.00,143.62 312.13,144.09 312.27,144.73 312.40,144.11 312.53,143.67 312.67,145.21 312.80,143.89 312.93,144.78 313.07,143.67 313.20,142.39 313.33,143.83 313.47,144.20 313.60,145.11 313.73,147.11 313.87,142.40 314.00,145.46 314.13,141.65 314.27,143.64 314.40,144.59 314.53,141.76 314.67,142.46 314.80,145.83 314.93,145.76 315.07,145.48 315.20,144.39 315.33,149.31 315.47,145.53 315.60,144.41 315.73,148.64 315.87,146.92 316.00,145.33 316.13,147.94 316.27,146.27 316.40,147.10 316.53,146.46 316.67,144.42 316.80,147.74 316.93,146.43 317.07,144.54 317.20,144.98 317.33,147.83 317.47,145.68 317.60,146.39 317.73,147.42 317.87,146.59 318.00,143.90 318.13,147.48 318.27,148.00 318.40,147.90 318.53,149.16 318.67,147.13 318.80,147.84 318.93,149.19 319.07,146.14 319.20,149.48 319.33,149.50 319.47,147.97 319.60,149.72 319.73,148.13 319.87,145.33 320.00,148.65 320.13,147.33 320.27,147.47 320.40,147.05 320.53,149.02 320.67,147.70 320.80,145.67 320.93,147.59 321.07,147.99 321.20,145.62 321.33,146.10 321.47,146.18 321.60,145.82 321.73,147.38 321.87,148.46 322.00,149.89 322.13,148.75 322.27,148.47 322.40,148.67 322.53,148.98 322.67,146.20 322.80,147.94 322.93,147.33 323.07,146.60 323.20,146.07 323.33,145.99 323.47,146.37 323.60,144.81 323.73,147.65 323.87,146.77 324.00,146.98 324.13,147.35 324.27,147.98 324.40,145.85 324.53,146.63 324.67,144.20 324.80,143.22 324.93,143.67 325.07,149.28 325.20,143.85 325.33,147.56 325.47,149.18 325.60,146.06 325.73,149.42 325.87,149.77 326.00,148.31 326.13,150.61 326.27,147.79 326.40,145.61 326.53,147.63 326.67,146.07 326.80,144.69 326.93,144.73 327.07,150.50 327.20,145.91 327.33,146.74 327.47,145.72 327.60,147.00 327.73,146.40 327.87,146.12 328.00,144.84 328.13,144.51 328.27,145.58 328.40,147.24 328.53,150.10 328.67,148.46 328.80,149.69 328.93,147.55 329.07,146.63 329.20,144.65 329.33,146.77 329.47,143.33 329.60,146.28 329.73,149.36 329.87,147.28 330.00,148.55 330.13,146.14 330.27,144.55 330.40,145.98 330.53,146.11 330.67,148.66 330.80,149.89 330.93,145.56 331.07,146.16 331.20,146.50 331.33,146.17 331.47,144.74 331.60,146.87 331.73,147.29 331.87,147.33 332.00,144.79 332.13,146.52 332.27,143.94 332.40,148.15 332.53,145.07 332.67,146.25 332.80,145.97 332.93,145.75 333.07,145.00 333.20,143.87 333.33,149.41 333.47,147.06 333.60,147.07 333.73,149.97 333.87,146.48 334.00,147.51 334.13,146.65 334.27,148.47 334.40,147.36 334.53,147.04 334.67,146.12 334.80,146.94 334.93,148.32 335.07,143.18 335.20,146.23 335.33,145.75 335.47,145.91 335.60,143.24 335.73,147.48 335.87,144.98 336.00,145.92 336.13,145.46 336.27,143.60 336.40,145.50 336.53,143.28 336.67,144.66 336.80,145.62 336.93,146.08 337.07,146.14 337.20,145.81 337.33,149.35 337.47,146.64 337.60,144.01 337.73,144.93 337.87,144.82 338.00,145.54 338.13,144.83 338.27,144.40 338.40,148.28 338.53,145.72 338.67,145.08 338.80,145.16 338.93,145.16 339.07,147.62 339.20,146.13 339.33,147.07 339.47,140.82 339.60,145.68 339.73,146.74 339.87,148.07 340.00,144.94 340.13,142.13 340.27,145.62 340.40,143.66 340.53,141.68 340.67,143.36 340.80,145.81 340.93,145.86 341.07,144.92 341.20,141.94 341.33,147.25 341.47,141.24 341.60,142.65 341.73,140.21 341.87,144.16 342.00,142.44 342.13,142.73 342.27,141.08 342.40,140.40 342.53,140.32 342.67,136.64 342.80,140.63 342.93,140.01 343.07,137.49 343.20,137.58 343.33,137.59 343.47,139.10 343.60,136.91 343.73,135.92 343.87,134.73 344.00,132.92 344.13,134.13 344.27,135.04 344.40,134.51 344.53,135.07 344.67,136.24 344.80,135.98 344.93,136.02 345.07,136.97 345.20,136.64 345.33,136.76 345.47,138.01 345.60,135.11 345.73,140.23 345.87,136.82 346.00,140.61 346.13,139.83 346.27,142.00 346.40,140.80 346.53,139.73 346.67,143.27 346.80,142.29 346.93,142.56 347.07,142.85 347.20,144.59 347.33,144.60 347.47,143.96 347.60,141.47 347.73,143.46 347.87,144.45 348.00,147.23 348.13,145.22 348.27,144.63 348.40,146.74 348.53,144.84 348.67,145.07 348.80,145.45 348.93,142.98 349.07,146.83 349.20,146.07 349.33,145.04 349.47,143.76 349.60,145.89 349.73,147.75 349.87,144.65 350.00,144.03 350.13,146.34 350.27,143.27 350.40,142.33 350.53,145.09 350.67,144.73 350.80,145.39 350.93,144.98 351.07,146.36 351.20,145.53 351.33,144.96 351.47,145.19 351.60,146.88 351.73,147.40 351.87,147.33 352.00,147.02 352.13,141.54 352.27,144.42 352.40,145.49 352.53,146.30 352.67,143.49 352.80,148.21 352.93,146.48 353.07,145.05 353.20,146.28 353.33,145.49 353.47,144.86 353.60,146.83 353.73,145.34 353.87,143.86 354.00,145.07 354.13,145.88 354.27,144.39 354.40,148.04 354.53,144.38 354.67,148.82 354.80,147.48 354.93,144.61 355.07,146.29 355.20,147.94 355.33,145.79 355.47,144.23 355.60,146.27 355.73,149.21 355.87,143.77 356.00,146.97 356.13,146.12 356.27,145.92 356.40,145.49 356.53,145.60 356.67,147.74 356.80,147.04 356.93,144.54 357.07,148.56 357.20,144.07 357.33,147.15 357.47,146.39 357.60,147.99 357.73,146.66 357.87,147.76 358.00,146.06 358.13,147.63 358.27,146.64 358.40,149.48 358.53,144.99 358.67,147.97 358.80,146.81 358.93,146.35 359.07,145.17 359.20,146.77 359.33,143.71 359.47,143.87 359.60,147.16 359.73,143.55 359.87,148.29 360.00,145.56 360.13,146.38 360.27,146.09 360.40,146.62 360.53,145.49 360.67,145.32 360.80,145.69 360.93,147.53 361.07,147.64 361.20,147.84 361.33,146.35 361.47,145.42 361.60,143.02 361.73,146.68 361.87,146.96 362.00,144.92 362.13,146.77 362.27,147.46 362.40,145.45 362.53,146.90 362.67,145.60 362.80,142.22 362.93,144.14 363.07,144.13 363.20,145.52 363.33,143.17 363.47,143.73 363.60,142.76 363.73,144.11 363.87,144.16 364.00,145.48 364.13,145.06 364.27,143.90 364.40,143.88 364.53,143.52 364.67,143.39 364.80,145.56 364.93,138.90 365.07,142.49 365.20,143.14 365.33,144.32 365.47,140.59 365.60,142.79 365.73,143.49 365.87,141.25 366.00,138.77 366.13,141.20 366.27,139.77 366.40,142.71 366.53,140.22 366.67,144.45 366.80,141.76 366.93,140.19 367.07,140.67 367.20,139.71 367.33,142.13 367.47,143.94 367.60,141.18 367.73,143.07 367.87,140.07 368.00,142.15 368.13,145.46 368.27,139.46 368.40,143.82 368.53,143.78 368.67,138.85 368.80,139.64 368.93,140.44 369.07,143.68 369.20,141.45 369.33,141.92 369.47,143.39 369.60,142.46 369.73,142.67 369.87,141.79 370.00,144.17 370.13,141.05 370.27,145.07 370.40,141.74 370.53,140.95 370.67,143.28 370.80,142.90 370.93,138.82 371.07,142.36 371.20,139.68 371.33,140.43 371.47,142.97 371.60,140.12 371.73,141.99 371.87,140.62 372.00,144.28 372.13,140.76 372.27,138.79 372.40,138.73 372.53,138.87 372.67,140.39 372.80,139.99 372.93,141.42 373.07,139.91 373.20,139.68 373.33,139.85 373.47,138.96 373.60,139.54 373.73,140.26 373.87,140.19 374.00,137.93 374.13,135.88 374.27,137.48 374.40,139.34 374.53,134.79 374.67,138.24 374.80,139.90 374.93,138.36 375.07,137.60 375.20,142.57 375.33,142.15 375.47,139.61 375.60,142.47 375.73,142.65 375.87,138.81 376.00,145.41 376.13,139.58 376.27,140.93 376.40,139.75 376.53,141.93 376.67,139.80 376.80,142.20 376.93,144.22 377.07,142.95 377.20,142.32 377.33,145.53 377.47,141.58 377.60,144.87 377.73,142.87 377.87,143.87 378.00,143.69 378.13,143.99 378.27,143.81 378.40,142.70 378.53,143.18 378.67,144.99 378.80,144.16 378.93,142.47 379.07,143.33 379.20,143.43 379.33,144.59 379.47,145.05 379.60,144.97 379.73,143.77 379.87,144.97 380.00,142.68 380.13,140.23 380.27,145.01 380.40,142.34 380.53,143.59 380.67,143.19 380.80,146.35 380.93,143.26 381.07,145.83 381.20,144.57 381.33,143.33 381.47,142.79 381.60,146.29 381.73,146.19 381.87,146.89 382.00,148.73 382.13,146.07 382.27,146.10 382.40,145.41 382.53,145.81 382.67,145.04 382.80,144.11 382.93,149.06 383.07,142.47 383.20,146.09 383.33,146.42 383.47,145.93 383.60,144.02 383.73,145.35 383.87,144.89 384.00,143.84 384.13,145.61 384.27,144.99 384.40,144.74 384.53,146.87 384.67,143.87 384.80,146.45 384.93,144.65 385.07,146.44 385.20,145.82 385.33,146.12 385.47,144.02 385.60,144.37 385.73,144.23 385.87,146.01 386.00,147.00 386.13,147.58 386.27,144.85 386.40,145.86 386.53,142.92 386.67,141.88 386.80,144.22 386.93,144.57 387.07,143.03 387.20,142.64 387.33,146.65 387.47,144.33 387.60,142.81 387.73,149.75 387.87,146.02 388.00,145.17 388.13,146.90 388.27,144.41 388.40,148.48 388.53,143.05 388.67,143.45 388.80,145.48 388.93,144.39 389.07,148.18 389.20,142.93 389.33,144.45 389.47,146.14 389.60,146.70 389.73,147.47 389.87,146.32 390.00,149.56 390.13,144.89 390.27,146.02 390.40,147.21 390.53,145.16 390.67,145.20 390.80,144.90 390.93,144.59 391.07,143.74 391.20,144.74 391.33,143.00 391.47,146.37 391.60,142.92 391.73,149.33 391.87,148.69 392.00,147.64 392.13,145.33 392.27,144.67 392.40,147.85 392.53,146.02 392.67,146.69 392.80,144.44 392.93,147.58 393.07,144.30 393.20,145.89 393.33,142.66 393.47,144.55 393.60,146.59 393.73,144.91 393.87,144.92 394.00,147.10 394.13,145.58 394.27,147.90 394.40,141.44 394.53,146.71 394.67,146.60 394.80,142.98 394.93,143.41 395.07,147.26 395.20,143.82 395.33,144.58 395.47,146.77 395.60,145.12 395.73,146.55 395.87,144.17 396.00,146.24 396.13,147.63 396.27,146.29 396.40,141.81 396.53,146.87 396.67,145.81 396.80,144.10 396.93,148.19 397.07,142.61 397.20,149.05 397.33,144.58 397.47,148.52 397.60,145.63 397.73,143.34 397.87,145.88 398.00,146.30 398.13,146.68 398.27,147.61 398.40,144.11 398.53,146.59 398.67,147.03 398.80,145.22 398.93,144.03 399.07,144.00 399.20,147.05 399.33,147.14 399.47,144.22 399.60,143.31 399.73,147.93 399.87,142.92 400.00,145.99 400.13,144.24 400.27,142.52 400.40,145.88 400.53,145.30 400.67,148.21 400.80,149.70 400.93,145.25 401.07,147.42 401.20,147.44 401.33,144.60 401.47,143.96 401.60,148.41 401.73,144.83 401.87,145.42 402.00,144.93 402.13,145.19 402.27,144.33 402.40,146.75 402.53,147.65 402.67,144.69 402.80,142.84 402.93,145.41 403.07,142.61 403.20,144.12 403.33,147.49 403.47,149.45 403.60,145.90 403.73,143.26 403.87,146.59 404.00,141.07 404.13,143.87 404.27,147.87 404.40,146.43 404.53,142.54 404.67,142.00 404.80,146.56 404.93,144.88 405.07,143.86 405.20,145.66 405.33,143.83 405.47,141.34 405.60,146.29 405.73,143.60 405.87,142.92 406.00,142.27 406.13,145.15 406.27,143.19 406.40,145.78 406.53,144.12 406.67,146.56 406.80,143.85 406.93,143.33 407.07,140.89 407.20,142.45 407.33,145.75 407.47,149.66 407.60,142.06 407.73,142.41 407.87,144.89 408.00,145.11 408.13,142.94 408.27,144.29 408.40,141.14 408.53,143.50 408.67,145.66 408.80,146.96 408.93,143.59 409.07,143.37 409.20,144.63 409.33,145.78 409.47,144.58 409.60,142.24 409.73,144.23 409.87,145.31 410.00,142.14 410.13,140.94 410.27,144.29 410.40,143.97 410.53,145.03 410.67,143.35 410.80,141.94 410.93,142.28 411.07,141.13 411.20,141.23 411.33,141.90 411.47,142.01 411.60,144.93 411.73,140.55 411.87,142.70 412.00,141.66 412.13,145.50 412.27,143.20 412.40,141.99 412.53,144.19 412.67,142.79 412.80,141.77 412.93,145.51 413.07,143.98 413.20,145.88 413.33,144.82 413.47,144.13 413.60,142.95 413.73,140.70 413.87,144.07 414.00,142.91 414.13,144.07 414.27,142.83 414.40,141.60 414.53,141.05 414.67,144.28 414.80,145.44 414.93,142.53 415.07,143.97 415.20,145.77 415.33,141.66 415.47,142.65 415.60,141.24 415.73,145.61 415.87,143.95 416.00,142.64 416.13,140.46 416.27,143.29 416.40,145.56 416.53,143.18 416.67,143.00 416.80,145.06 416.93,141.59 417.07,144.06 417.20,145.14 417.33,142.60 417.47,142.55 417.60,144.63 417.73,144.03 417.87,143.82 418.00,144.70 418.13,144.77 418.27,142.64 418.40,143.17 418.53,145.32 418.67,146.63 418.80,147.11 418.93,142.98 419.07,146.69 419.20,146.08 419.33,144.62 419.47,145.63 419.60,146.31 419.73,148.15 419.87,142.79 420.00,145.95 420.13,144.57 420.27,144.47 420.40,147.06 420.53,146.46 420.67,143.01 420.80,144.42 420.93,145.40 421.07,142.33 421.20,146.63 421.33,144.88 421.47,145.34 421.60,145.68 421.73,148.46 421.87,145.15 422.00,144.42 422.13,148.37 422.27,144.18 422.40,144.15 422.53,142.55 422.67,147.17 422.80,145.67 422.93,146.05 423.07,145.49 423.20,144.94 423.33,143.73 423.47,143.75 423.60,146.02 423.73,145.45 423.87,148.26 424.00,143.82 424.13,144.34 424.27,143.36 424.40,147.81 424.53,142.98 424.67,146.70 424.80,147.93 424.93,145.02 425.07,146.63 425.20,141.37 425.33,144.59 425.47,142.25 425.60,145.63 425.73,145.33 425.87,143.91 426.00,147.06 426.13,145.99 426.27,144.38 426.40,144.40 426.53,142.65 426.67,145.01 426.80,149.24 426.93,144.06 427.07,146.14 427.20,144.37 427.33,146.85 427.47,146.19 427.60,144.96 427.73,142.14 427.87,144.46 428.00,147.59 428.13,144.96 428.27,146.56 428.40,144.54 428.53,142.03 428.67,146.20 428.80,146.01 428.93,144.39 429.07,144.77 429.20,145.97 429.33,144.38 429.47,146.08 429.60,145.09 429.73,141.21 429.87,145.21 430.00,144.40 430.13,143.97 430.27,146.21 430.40,144.61 430.53,146.46 430.67,147.46 430.80,145.76 430.93,142.73 431.07,144.20 431.20,147.15 431.33,145.05 431.47,144.08 431.60,145.37 431.73,146.43 431.87,146.00 432.00,146.69 432.13,144.07 432.27,145.06 432.40,145.10 432.53,145.52 432.67,141.83 432.80,145.15 432.93,143.19 433.07,148.04 433.20,148.34 433.33,148.56 433.47,147.02 433.60,144.73 433.73,147.30 433.87,145.25 434.00,146.69 434.13,144.02 434.27,144.58 434.40,146.44 434.53,148.75 434.67,145.58 434.80,149.60 434.93,150.49 435.07,143.39 435.20,145.60 435.33,143.98 435.47,145.41 435.60,144.72 435.73,145.54 435.87,147.36 436.00,147.31 436.13,146.13 436.27,145.68 436.40,145.89 436.53,145.91 436.67,146.69 436.80,145.71 436.93,146.58 437.07,143.42 437.20,147.09 437.33,148.75 437.47,146.04 437.60,143.27 437.73,148.07 437.87,145.16 438.00,140.85 438.13,145.36 438.27,146.79 438.40,146.41 438.53,147.90 438.67,146.83 438.80,145.97 438.93,142.35 439.07,143.85 439.20,146.08 439.33,146.94 439.47,144.01 439.60,144.73 439.73,146.60 439.87,142.51 440.00,142.45 440.13,145.41 440.27,146.25 440.40,145.01 440.53,141.93 440.67,145.89 440.80,143.60 440.93,146.98 441.07,145.71 441.20,146.33 441.33,146.98 441.47,145.02 441.60,147.31 441.73,148.01 441.87,146.60 442.00,148.17 442.13,144.92 442.27,147.49 442.40,146.43 442.53,144.36 442.67,145.87 442.80,145.14 442.93,145.11 443.07,146.17 443.20,147.78 443.33,145.53 443.47,146.27 443.60,143.68 443.73,146.26 443.87,147.97 444.00,147.42 444.13,146.88 444.27,145.28 444.40,144.57 444.53,145.99 444.67,144.01 444.80,144.19 444.93,147.68 445.07,144.73 445.20,149.05 445.33,143.94 445.47,146.90 445.60,144.38 445.73,146.51 445.87,144.61 446.00,146.32 446.13,146.02 446.27,145.57 446.40,147.09 446.53,148.65 446.67,145.39 446.80,147.69 446.93,146.46 447.07,146.29 447.20,149.72 447.33,143.02 447.47,145.32 447.60,143.61 447.73,145.91 447.87,146.05 448.00,150.72 448.13,146.94 448.27,149.14 448.40,148.38 448.53,145.74 448.67,147.14 448.80,148.95 448.93,146.67 449.07,146.73 449.20,147.17 449.33,144.12 449.47,145.18 449.60,146.92 449.73,147.24 449.87,145.01"/>
<g fill="#000"><rect x="48.30" y="199.50" width="2" height="2.60"/><rect x="82.70" y="199.70" width="2" height="2.40"/><rect x="109.70" y="146.50" width="2" height="55.60"/><rect x="180.20" y="182.90" width="2" height="19.20"/><rect x="198.10" y="185.20" width="2" height="16.90"/><rect x="201.60" y="200.40" width="2" height="1.70"/><rect x="228.80" y="199.50" width="2" height="2.60"/><rect x="260.00" y="194.00" width="2" height="8.10"/><rect x="294.90" y="201.00" width="2" height="1.10"/><rect x="307.60" y="197.10" width="2" height="5.00"/><rect x="344.40" y="197.00" width="2" height="5.10"/><rect x="370.20" y="196.50" width="2" height="5.60"/><rect x="373.70" y="201.00" width="2" height="1.10"/><rect x="410.50" y="198.50" width="2" height="3.60"/><rect x="422.30" y="200.50" width="2" height="1.60"/><rect x="0" y="201.6" width="448" height="2.5999999999999943"/><rect x="-8.27" y="203.70" width="2.2" height="9.00"/><rect x="58.85" y="203.70" width="2.2" height="9.00"/><rect x="125.97" y="203.70" width="2.2" height="9.00"/><rect x="193.09" y="203.70" width="2.2" height="9.00"/><rect x="260.21" y="203.70" width="2.2" height="9.00"/><rect x="327.33" y="203.70" width="2.2" height="9.00"/><rect x="394.45" y="203.70" width="2.2" height="9.00"/><rect x="461.57" y="203.70" width="2.2" height="9.00"/><rect x="25.35" y="203.70" width="2.2" height="4.80"/><rect x="92.47" y="203.70" width="2.2" height="4.80"/><rect x="159.59" y="203.70" width="2.2" height="4.80"/><rect x="226.71" y="203.70" width="2.2" height="4.80"/><rect x="293.83" y="203.70" width="2.2" height="4.80"/><rect x="360.95" y="203.70" width="2.2" height="4.80"/><rect x="428.07" y="203.70" width="2.2" height="4.80"/></g>
<g class="san" font-size="18.1"><text x="-7.17" y="231.3" text-anchor="middle">10</text><text x="59.95" y="231.3" text-anchor="middle">20</text><text x="127.07" y="231.3" text-anchor="middle">30</text><text x="194.19" y="231.3" text-anchor="middle">40</text><text x="261.31" y="231.3" text-anchor="middle">50</text><text x="328.43" y="231.3" text-anchor="middle">60</text><text x="395.55" y="231.3" text-anchor="middle">70</text><text x="462.67" y="231.3" text-anchor="middle">80</text></g>
<g class="ser" font-size="13.0"><text transform="translate(114.30,36.00) rotate(-90)" textLength="28.90" lengthAdjust="spacingAndGlyphs">(104)</text><text transform="translate(185.00,105.20) rotate(-90)" textLength="27.70" lengthAdjust="spacingAndGlyphs">(018)</text><text transform="translate(204.30,115.10) rotate(-90)" textLength="29.60" lengthAdjust="spacingAndGlyphs">(110)</text><text transform="translate(233.70,130.50) rotate(-90)" textLength="43.40" lengthAdjust="spacingAndGlyphs">(0,0,12)</text><text transform="translate(267.00,127.10) rotate(-90)" textLength="29.30" lengthAdjust="spacingAndGlyphs">(024)</text><text transform="translate(312.50,127.40) rotate(-90)" textLength="29.30" lengthAdjust="spacingAndGlyphs">(029)</text><text transform="translate(349.30,127.10) rotate(-90)" textLength="42.60" lengthAdjust="spacingAndGlyphs">(1,1,12)</text><text transform="translate(377.50,129.40) rotate(-90)" textLength="28.90" lengthAdjust="spacingAndGlyphs">(214)</text><text transform="translate(419.30,126.50) rotate(-90)" textLength="42.60" lengthAdjust="spacingAndGlyphs">(0,0,19)</text></g>
<text class="ser" font-size="13.6" x="302.6" y="176.7" textLength="92.6" lengthAdjust="spacingAndGlyphs">JCPDS#75-1095</text>
<text class="ser" font-size="13" x="191.8" y="245.7">2θ</text><text class="ser" font-size="13" x="210.2" y="245.7" textLength="51.0" lengthAdjust="spacingAndGlyphs">(degrees)</text>
</svg>
</body></html>
